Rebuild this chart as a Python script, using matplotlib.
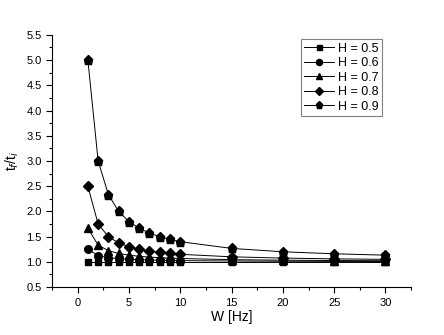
import matplotlib.pyplot as plt
from matplotlib.ticker import MultipleLocator

plt.rcParams['font.family'] = ['Liberation Sans', 'DejaVu Sans']

W = [1, 2, 3, 4, 5, 6, 7, 8, 9, 10, 15, 20, 25, 30]
labels = ["H = 0.5", "H = 0.6", "H = 0.7", "H = 0.8", "H = 0.9"]
h05 = [1.0, 1.0, 1.0, 1.0, 1.0, 1.0, 1.0, 1.0, 1.0, 1.0, 1.0, 1.0, 1.0, 1.0]
h06 = [1.25, 1.125, 1.083, 1.063, 1.05, 1.042, 1.036, 1.031, 1.028, 1.025, 1.017, 1.013, 1.01, 1.008]
h07 = [1.667, 1.333, 1.222, 1.167, 1.133, 1.111, 1.095, 1.083, 1.074, 1.067, 1.044, 1.033, 1.027, 1.022]
h08 = [2.5, 1.75, 1.5, 1.375, 1.3, 1.25, 1.214, 1.188, 1.167, 1.15, 1.1, 1.075, 1.06, 1.05]
h09 = [5.0, 3.0, 2.333, 2.0, 1.8, 1.667, 1.571, 1.5, 1.444, 1.4, 1.267, 1.2, 1.16, 1.133]
series = [h05, h06, h07, h08, h09]
markers = ["s", "o", "^", "D", "p"]
sizes = [4.5, 5.5, 5.5, 5, 6.5]

fig = plt.figure(figsize=(4.44, 3.35), dpi=100)
ax = fig.add_axes([0.117, 0.143, 0.809, 0.753])

for ys, m, ms, lab in zip(series, markers, sizes, labels):
    ax.plot(W, ys, color="black", lw=0.7, marker=m, ms=ms, label=lab)

ax.set_xlim(-2.5, 32.5)
ax.set_ylim(0.5, 5.5)
ax.xaxis.set_major_locator(MultipleLocator(5))
ax.xaxis.set_minor_locator(MultipleLocator(2.5))
ax.yaxis.set_major_locator(MultipleLocator(0.5))
ax.yaxis.set_minor_locator(MultipleLocator(0.25))
ax.yaxis.set_major_formatter(plt.FormatStrFormatter("%.1f"))
ax.spines["top"].set_visible(False)
ax.spines["right"].set_visible(False)
ax.tick_params(which="both", direction="out", labelsize=8, width=0.8)
ax.tick_params(which="major", length=4)
ax.tick_params(which="minor", length=2)

ax.set_xlabel("W [Hz]", fontsize=10, labelpad=2)
ax.set_ylabel("t$_f$/t$_i$", fontsize=10)

leg = ax.legend(loc="upper right", bbox_to_anchor=(0.92, 0.984), borderaxespad=0,
                fontsize=9, fancybox=False, framealpha=1, edgecolor="gray",
                markerscale=0.8, handlelength=2.4, borderpad=0.3,
                labelspacing=0.2, handletextpad=0.3)
leg.get_frame().set_linewidth(0.8)

fig.savefig("out.png", dpi=100)
